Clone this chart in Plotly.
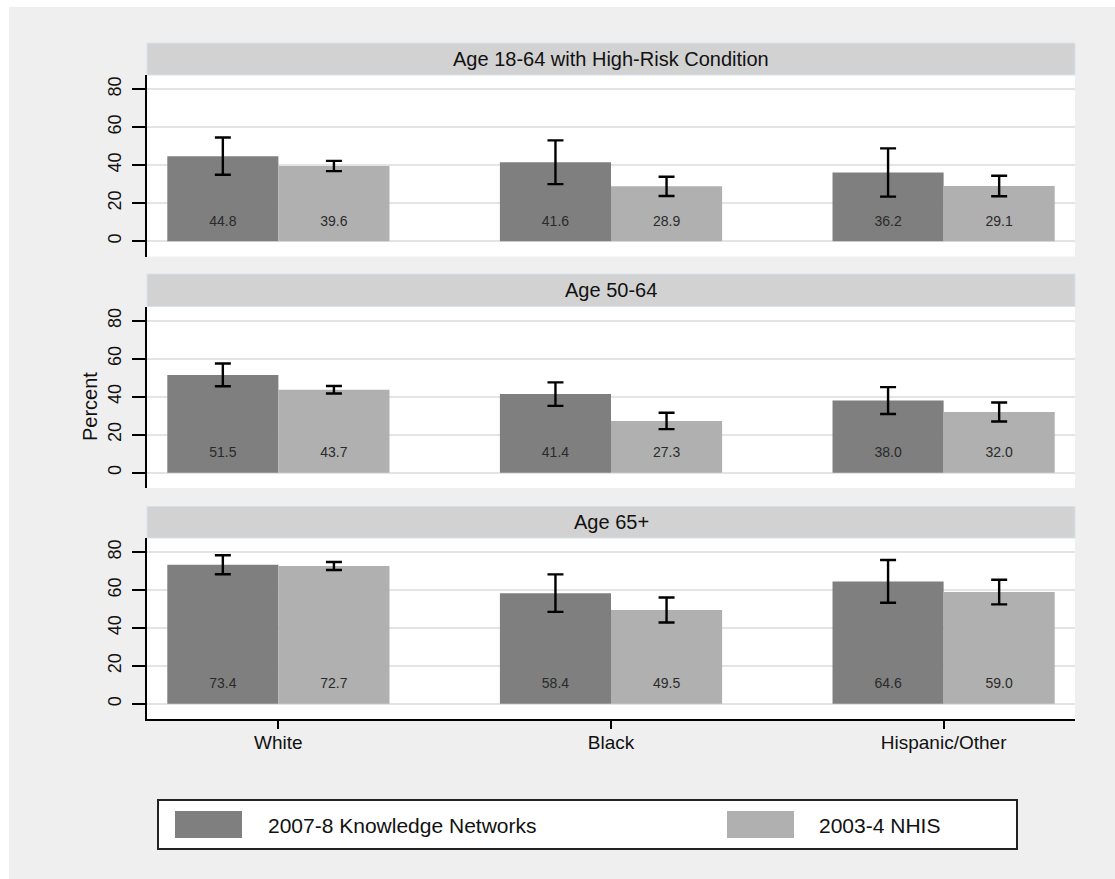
import plotly.graph_objects as go

# ---------------- data ----------------
categories = ["White", "Black", "Hispanic/Other"]
panel_titles = ["Age 18-64 with High-Risk Condition", "Age 50-64", "Age 65+"]
series_names = ["2007-8 Knowledge Networks", "2003-4 NHIS"]

kn_high_risk = [44.8, 41.6, 36.2]
kn_50_64 = [51.5, 41.4, 38.0]
kn_65plus = [73.4, 58.4, 64.6]

nhis_high_risk = [39.6, 28.9, 29.1]
nhis_50_64 = [43.7, 27.3, 32.0]
nhis_65plus = [72.7, 49.5, 59.0]

kn_err_high_risk = [9.8, 11.5, 12.7]
kn_err_50_64 = [6.0, 6.2, 7.1]
kn_err_65plus = [5.0, 9.9, 11.3]

nhis_err_high_risk = [2.7, 5.1, 5.4]
nhis_err_50_64 = [2.0, 4.3, 5.0]
nhis_err_65plus = [2.1, 6.6, 6.5]

y_ticks = [0, 20, 40, 60, 80]

kn_values = [kn_high_risk, kn_50_64, kn_65plus]
nhis_values = [nhis_high_risk, nhis_50_64, nhis_65plus]
kn_errs = [kn_err_high_risk, kn_err_50_64, kn_err_65plus]
nhis_errs = [nhis_err_high_risk, nhis_err_50_64, nhis_err_65plus]

# ---------------- styling / layout ----------------
W, H = 1115, 879
FONT = "Liberation Sans, Arial, sans-serif"
DARK = "#7f7f7f"
LIGHT = "#b0b0b0"
BG = "#efefef"
STRIP = "#d2d2d2"
BW = 0.334  # bar width in category units


def px(x):
    return x / W


def py(y):
    return 1 - y / H


X0, X1 = 147, 1075
plot_tops = [75, 306.5, 538]
plot_bots = [256.5, 488, 719]
strip_tops = [43, 274, 506.5]

fig = go.Figure()

for p in range(3):
    sfx = "" if p == 0 else str(p + 1)
    xa, ya = "x" + sfx, "y" + sfx
    xpos = list(range(len(categories)))
    fig.add_trace(go.Bar(
        x=xpos, y=kn_values[p], width=BW, offset=-BW,
        marker=dict(color=DARK, line=dict(width=0)),
        error_y=dict(type="data", array=kn_errs[p], color="#000000", thickness=2.4, width=8),
        xaxis=xa, yaxis=ya, name=series_names[0], showlegend=False, hoverinfo="y"))
    fig.add_trace(go.Bar(
        x=xpos, y=nhis_values[p], width=BW, offset=0,
        marker=dict(color=LIGHT, line=dict(width=0)),
        error_y=dict(type="data", array=nhis_errs[p], color="#000000", thickness=2.4, width=8),
        xaxis=xa, yaxis=ya, name=series_names[1], showlegend=False, hoverinfo="y"))
    # value labels near bar bottoms
    fig.add_trace(go.Scatter(
        x=[i - BW / 2 for i in xpos] + [i + BW / 2 for i in xpos],
        y=[10] * (2 * len(xpos)),
        text=["%.1f" % v for v in kn_values[p]] + ["%.1f" % v for v in nhis_values[p]],
        mode="text", textfont=dict(family=FONT, size=14, color="#2a2a2a"),
        xaxis=xa, yaxis=ya, showlegend=False, hoverinfo="skip"))

    last = p == 2
    fig.update_layout(**{
        ("xaxis" + sfx): dict(
            domain=[px(X0), px(X1)], anchor=ya, range=[-0.395, 2.395],
            tickvals=list(range(len(categories))), ticktext=categories,
            showticklabels=last, ticks="outside" if last else "", ticklen=8,
            tickwidth=1.5, tickcolor="#000000", ticklabelstandoff=-3,
            showline=last, linecolor="#000000", linewidth=1.5,
            showgrid=False, zeroline=False, automargin=False,
            tickfont=dict(family=FONT, size=19, color="#111111"), fixedrange=True),
        ("yaxis" + sfx): dict(
            domain=[py(plot_bots[p]), py(plot_tops[p])], anchor=xa, range=[-8, 87.5],
            tickvals=y_ticks, ticks="outside", ticklen=13, tickwidth=1.5, tickcolor="#000000",
            tickangle=-90, ticklabelstandoff=4,
            showline=True, linecolor="#000000", linewidth=1.5,
            showgrid=True, gridcolor="#e4e4e4", gridwidth=2, zeroline=False, automargin=False,
            tickfont=dict(family=FONT, size=18, color="#111111"), fixedrange=True),
    })

shapes = []
annotations = []
# background (white outer border at top/left)
shapes.append(dict(type="rect", xref="paper", yref="paper", x0=px(9), x1=px(W), y0=py(H), y1=py(7),
                   fillcolor=BG, line=dict(width=0), layer="below"))
for p in range(3):
    # plot area white
    shapes.append(dict(type="rect", xref="paper", yref="paper", x0=px(X0), x1=px(X1),
                       y0=py(plot_bots[p]), y1=py(plot_tops[p]), fillcolor="#ffffff",
                       line=dict(width=0), layer="below"))
    # strip header
    shapes.append(dict(type="rect", xref="paper", yref="paper", x0=px(X0), x1=px(X1),
                       y0=py(plot_tops[p]), y1=py(strip_tops[p]), fillcolor=STRIP,
                       line=dict(width=1, color="#d6e2ea"), layer="below"))
    annotations.append(dict(text=panel_titles[p], xref="paper", yref="paper",
                            x=px((X0 + X1) / 2), y=py((strip_tops[p] + plot_tops[p]) / 2),
                            showarrow=False, xanchor="center", yanchor="middle",
                            font=dict(family=FONT, size=20, color="#111111")))

annotations.append(dict(text="Percent", xref="paper", yref="paper", x=px(90), y=py(407),
                        textangle=-90, showarrow=False, xanchor="center", yanchor="middle",
                        font=dict(family=FONT, size=20, color="#111111")))

# legend box
shapes.append(dict(type="rect", xref="paper", yref="paper", x0=px(158), x1=px(1017),
                   y0=py(849), y1=py(800), fillcolor="#ffffff",
                   line=dict(width=2, color="#222222")))
legend_items = [(DARK, 175, 242, 266), (LIGHT, 727, 794, 817)]
for (col, sx0, sx1, tx), name in zip(legend_items, series_names):
    shapes.append(dict(type="rect", xref="paper", yref="paper", x0=px(sx0), x1=px(sx1),
                       y0=py(838), y1=py(811), fillcolor=col, line=dict(width=0)))
    annotations.append(dict(text=name, xref="paper", yref="paper", x=px(tx), y=py(825),
                            showarrow=False, xanchor="left", yanchor="middle",
                            font=dict(family=FONT, size=21, color="#111111")))

fig.update_layout(
    width=W, height=H, margin=dict(l=0, r=0, t=0, b=0, pad=0),
    paper_bgcolor="#ffffff", plot_bgcolor="rgba(0,0,0,0)",
    barmode="overlay", showlegend=False,
    shapes=shapes, annotations=annotations,
    font=dict(family=FONT),
)

fig.write_html("out.html", config={"displayModeBar": False},
               post_script="document.body.style.margin='0';document.body.style.overflow='hidden';")
